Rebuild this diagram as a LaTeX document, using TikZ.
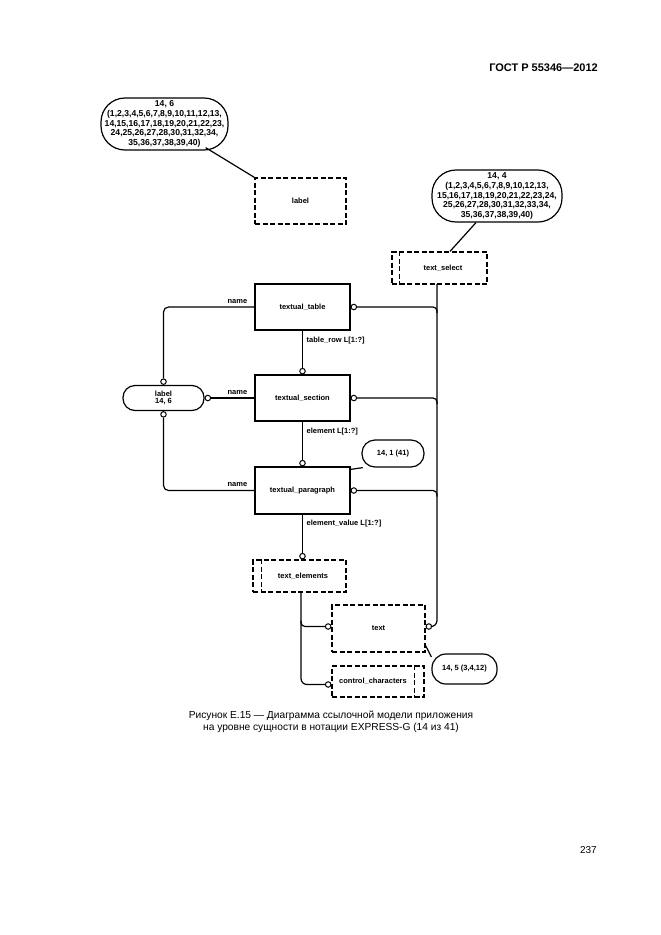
\documentclass[tikz,border=0pt]{standalone}
\usepackage{fontspec}
\setmainfont{Liberation Sans}
\newcommand{\efont}{\bfseries\fontsize{7.5}{8}\selectfont}
\newcommand{\bfont}{\bfseries\fontsize{8.6}{9.6}\selectfont}
\begin{document}
\begin{tikzpicture}[x=1pt,y=-1pt,
  ent/.style={draw, line width=1.2pt, minimum width=95pt, minimum height=46pt, inner sep=0pt, font=\efont},
  dent/.style={ent, dash pattern=on 5pt off 2.5pt},
  dln/.style={line width=1.2pt, dash pattern=on 5pt off 2.5pt},
  bub/.style={draw, line width=1.2pt, rounded corners=#1, inner sep=0pt, align=center},
  ln/.style={line width=1.2pt},
  oc/.style={circle, draw, fill=white, line width=1pt, minimum size=5.5pt, inner sep=0pt},
  lab/.style={font=\efont, inner sep=0pt},
]
\useasboundingbox (0,0) rectangle (661,935);
\fill[white] (0,0) rectangle (661,935);

% header and footer
\node[font=\bfseries\fontsize{11}{13}\selectfont, anchor=east, inner sep=0pt] (hdr) at (598,68) {ГОСТ Р 55346—2012};
\node[font=\fontsize{10}{12}\selectfont, anchor=east, inner sep=0pt] (pg) at (597,850) {237};
\node[font=\fontsize{10.2}{12.2}\selectfont, align=center, inner sep=0pt] (cap) at (331,722)
  {Рисунок Е.15 — Диаграмма ссылочной модели приложения\\на уровне сущности в нотации EXPRESS-G (14 из 41)};

% entities
\node[ent] (tt) at (302.5,307) {textual\_table};
\node[ent] (ts) at (302.5,398) {textual\_section};
\node[ent, minimum height=47pt] (tp) at (302.5,490.5) {textual\_paragraph};
\node[dent, minimum width=91pt] (lbl) at (300.5,201) {label};
\node[dent, minimum width=93pt, minimum height=47pt] (txt) at (378.5,628.5) {text};

% select types
\node[dent, minimum height=32pt] (tsel) at (439.5,268) {};
\node[lab] (tseltxt) at (443,268) {text\_select};
\draw[dln] ([xshift=8pt]tsel.north west) -- ([xshift=8pt]tsel.south west);
\node[dent, minimum width=93pt, minimum height=32pt] (tel) at (299.5,576) {};
\node[lab] (teltxt) at (303,576) {text\_elements};
\draw[dln] ([xshift=9pt]tel.north west) -- ([xshift=9pt]tel.south west);
\node[dent, minimum width=92pt, minimum height=31pt] (cc) at (378,681.5) {};
\node[lab] (cctxt) at (373,681.5) {control\_characters};
\draw[dln] ([xshift=-10pt]cc.north east) -- ([xshift=-10pt]cc.south east);

% defined type label
\node[bub=12pt, minimum width=81pt, minimum height=25pt, font=\efont] (lb) at (163.5,398) {label\\[-1pt]14, 6};

% page references
\node[bub=24pt, minimum width=127pt, minimum height=52pt, font=\bfont] (b1) at (164.5,124)
  {14, 6\\(1,2,3,4,5,6,7,8,9,10,11,12,13,\\14,15,16,17,18,19,20,21,22,23,\\24,25,26,27,28,30,31,32,34,\\35,36,37,38,39,40)};
\node[bub=24pt, minimum width=130pt, minimum height=52pt, font=\bfont] (b2) at (497,196)
  {14, 4\\(1,2,3,4,5,6,7,8,9,10,12,13,\\15,16,17,18,19,20,21,22,23,24,\\25,26,27,28,30,31,32,33,34,\\35,36,37,38,39,40)};
\node[bub=13pt, minimum width=62pt, minimum height=27pt, font=\efont] (b3) at (393,453.5) {14, 1 (41)};
\node[bub=14pt, minimum width=65pt, minimum height=30pt, font=\efont] (b4) at (464.5,669) {14, 5 (3,4,12)};

\draw[ln] ([xshift=-23pt,yshift=3pt]b1.south east) -- (lbl.north west);
\draw[ln] ([xshift=-21pt]b2.south) -- ([xshift=10.5pt]tsel.north);
\draw[ln] ([yshift=-3pt]tp.north east) -- (b3.205);
\draw[ln] ([yshift=7pt]txt.south east) -- (b4.160);

% name attributes
\node[oc, anchor=south] (c1) at (lb.north) {};
\node[oc, anchor=west] (c2) at (lb.east) {};
\node[oc, anchor=north] (c3) at (lb.south) {};
\draw[ln, rounded corners=5pt] (tt.west) -| (c1.north);
\draw[ln] (c2.east) -- (ts.west);
\draw[ln, rounded corners=5pt] (c3.south) |- (tp.west);
\node[lab, anchor=south east] (n1) at ([xshift=-7pt,yshift=3.5pt]tt.west) {name};
\node[lab, anchor=south east] (n2) at ([xshift=-7pt,yshift=3.5pt]ts.west) {name};
\node[lab, anchor=south east] (n3) at ([xshift=-7pt,yshift=3.5pt]tp.west) {name};

% aggregation attributes
\node[oc, anchor=south] (c4) at (ts.north) {};
\node[oc, anchor=south] (c5) at (tp.north) {};
\node[oc, anchor=south] (c6) at (tp.south |- tel.north) {};
\draw[ln] (tt.south) -- (c4.north);
\draw[ln] (ts.south) -- (c5.north);
\draw[ln] (tp.south) -- (c6.north);
\node[lab, anchor=north west] (r1) at ([xshift=4pt,yshift=-6pt]tt.south) {table\_row L[1:?]};
\node[lab, anchor=north west] (r2) at ([xshift=4pt,yshift=-6pt]ts.south) {element L[1:?]};
\node[lab, anchor=north west] (r3) at ([xshift=4pt,yshift=-5pt]tp.south) {element\_value L[1:?]};

% text_select bus
\coordinate (bus) at (437,284);
\node[oc, anchor=west] (c7) at (tt.east) {};
\node[oc, anchor=west] (c8) at (ts.east) {};
\node[oc, anchor=west] (c9) at (tp.east) {};
\node[oc, anchor=west] (c10) at ([yshift=2pt]txt.east) {};
\draw[ln, rounded corners=6pt] (bus) |- (c10.east);
\draw[ln, rounded corners=4pt] (c7.east) -- (bus |- c7) -- ([yshift=-6pt]bus |- c7);
\draw[ln, rounded corners=4pt] (c8.east) -- (bus |- c8) -- ([yshift=-6pt]bus |- c8);
\draw[ln, rounded corners=4pt] (c9.east) -- (bus |- c9) -- ([yshift=-6pt]bus |- c9);

% text_elements bus
\coordinate (tbus) at (301,592);
\node[oc, anchor=east] (c11) at ([yshift=2pt]txt.west) {};
\node[oc, anchor=east] (c12) at ([yshift=-3pt]cc.west) {};
\draw[ln, rounded corners=6pt] (tbus) |- (c12.west);
\draw[ln, rounded corners=4pt] ([yshift=6pt]tbus |- c11) -- (tbus |- c11) -- (c11.west);
\end{tikzpicture}
\end{document}
